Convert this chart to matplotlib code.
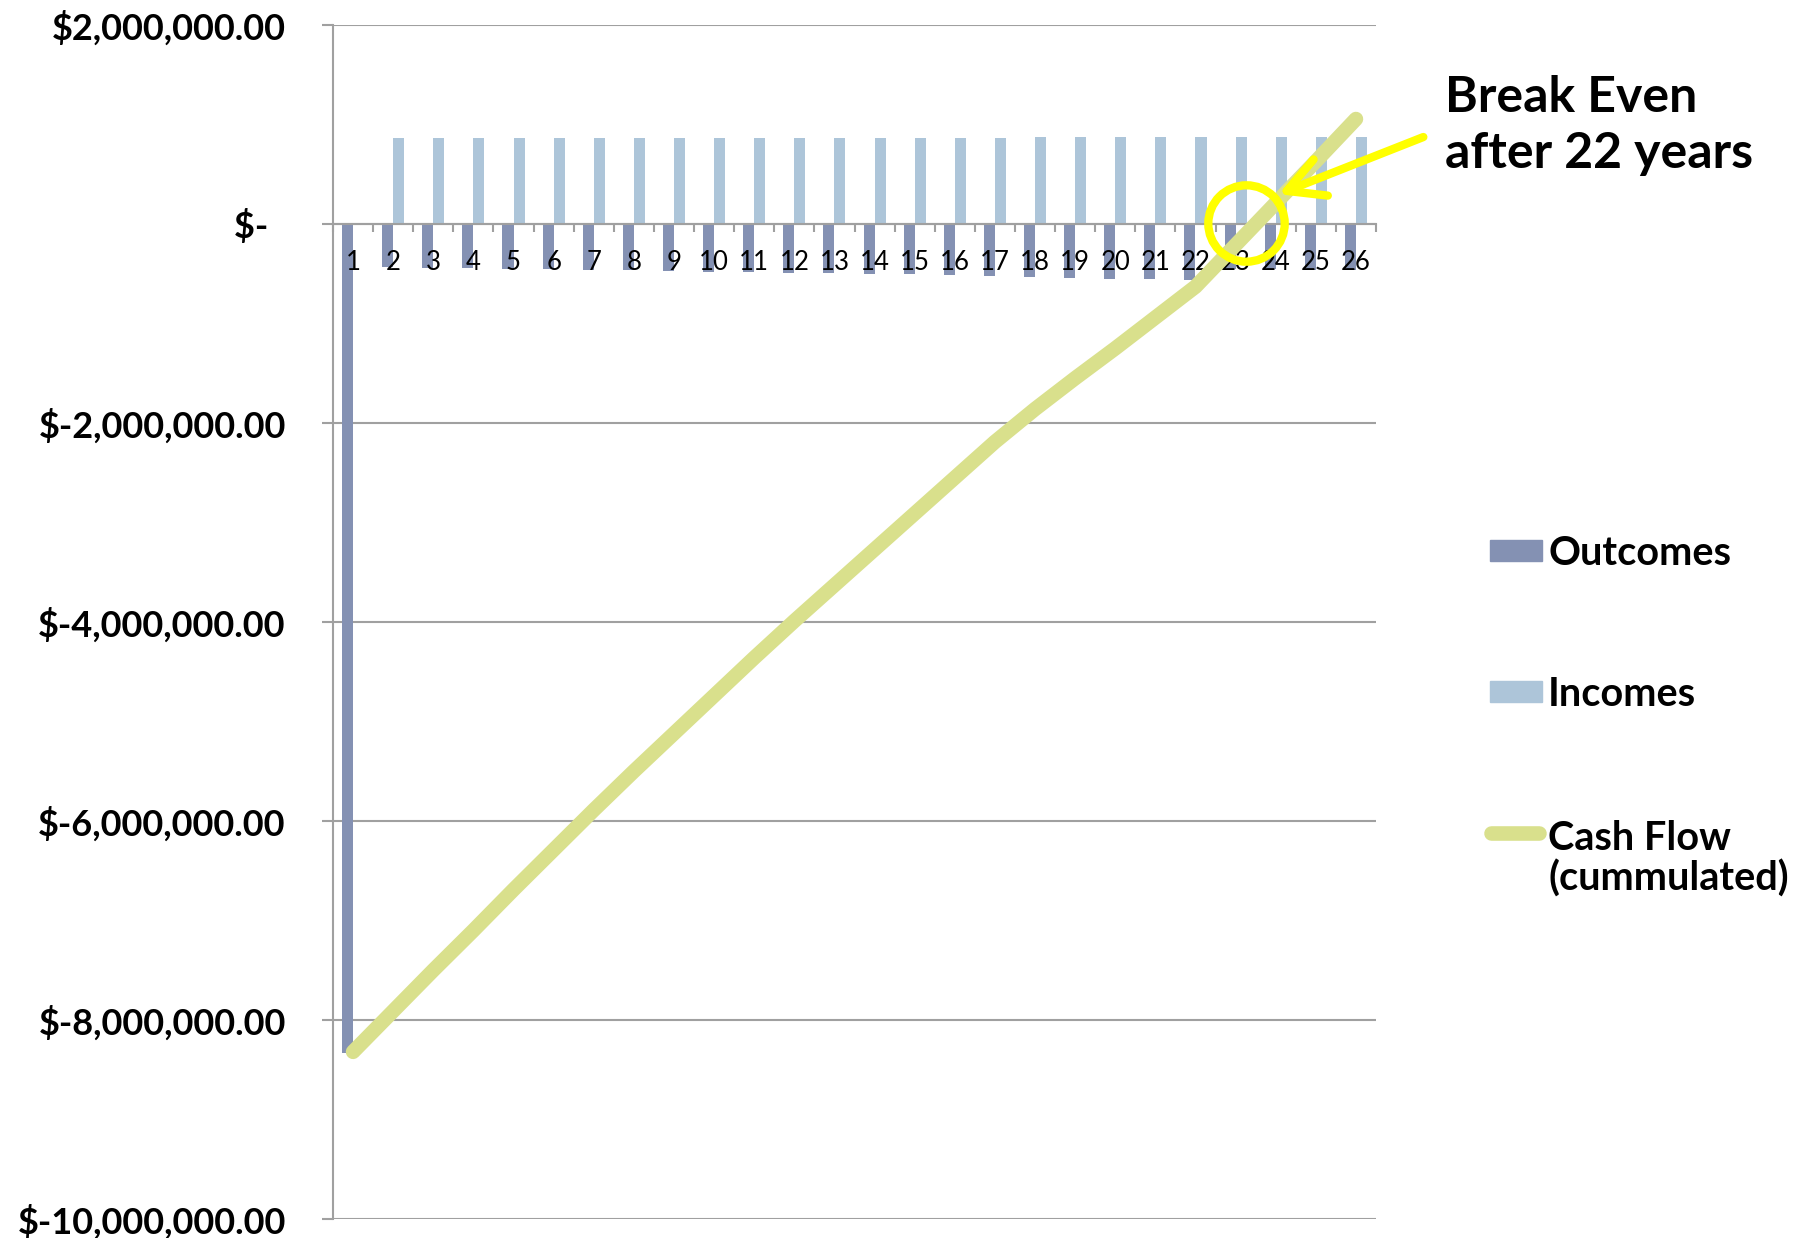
import matplotlib
matplotlib.use("Agg")
import matplotlib.pyplot as plt
from matplotlib.patches import Rectangle
from matplotlib.lines import Line2D
from matplotlib.ticker import FuncFormatter, FixedLocator
import numpy as np

plt.rcParams["font.family"] = ["Lato", "DejaVu Sans"]

# --- data ---
years = list(range(1, 27))
outcomes = [-8330000, -430000, -446000, -446000, -456000, -456000, -462000,
            -462000, -469000, -479000, -479000, -489000, -496000, -503000,
            -503000, -513000, -523000, -529000, -540000, -549000, -556000,
            -566000, -455000, -455000, -458000, -462000]
incomes = [0] + [861000] * 16 + [871000] * 9
cash_flow = [-8320000, -7910000, -7500000, -7100000, -6690000, -6290000,
             -5890000, -5500000, -5120000, -4740000, -4360000, -3990000,
             -3630000, -3270000, -2910000, -2550000, -2190000, -1860000,
             -1550000, -1250000, -940000, -630000, -210000, 210000,
             630000, 1055000]
y_ticks = [-10000000, -8000000, -6000000, -4000000, -2000000, 0, 2000000]

C_OUT = "#8491B3"
C_INC = "#ADC5D9"
C_CF = "#D9E08C"
C_YEL = "#FFFF00"
C_GRID = "#A0A0A0"

W, H = 1812, 1238
fig = plt.figure(figsize=(W / 100, H / 100), dpi=100)


def fx(px):
    return px / W


def fy(py):
    return 1 - py / H


ax = fig.add_axes([fx(333), fy(1219), fx(1376) - fx(333), fy(25) - fy(1219)])

# horizontal gridlines under everything
for t in y_ticks:
    ax.axhline(t, color=C_GRID, lw=1.5, zorder=0.5)

x = np.arange(len(years))
bw = 0.275
ax.bar(x - bw / 2, outcomes, width=bw, color=C_OUT, zorder=1)
ax.bar(x + bw / 2, incomes, width=bw, color=C_INC, zorder=1)
ax.plot(x, cash_flow, color=C_CF, lw=10.5, solid_capstyle="round",
        solid_joinstyle="round", zorder=3)

ax.set_xlim(-0.5, len(years) - 0.5)
ax.set_ylim(y_ticks[0], y_ticks[-1])
ax.set_yticks(y_ticks)


def money(v, pos):
    if v == 0:
        return "$-  "
    return f"${v:,.2f}"


ax.yaxis.set_major_formatter(FuncFormatter(money))

for s in ["top", "right"]:
    ax.spines[s].set_visible(False)
ax.spines["bottom"].set_position(("data", 0))
ax.spines["bottom"].set_color(C_GRID)
ax.spines["bottom"].set_linewidth(1.5)
ax.spines["left"].set_color(C_GRID)
ax.spines["left"].set_linewidth(1.5)

ax.set_xticks(x)
ax.set_xticklabels([str(y) for y in years])
ax.xaxis.set_minor_locator(FixedLocator(np.arange(-0.5, len(years), 1.0)))
ax.tick_params(axis="x", which="major", length=0, pad=19, labelsize=18.5)
ax.tick_params(axis="x", which="minor", length=6, width=1.5, color=C_GRID,
               direction="out")
ax.tick_params(axis="y", length=8, width=1.5, color=C_GRID, pad=26,
               labelsize=26)
for lab in ax.get_yticklabels():
    lab.set_fontweight("bold")

# break-even annotation
ax.plot([22.27], [15000], marker="o", ms=55, mfc="none", mec=C_YEL, mew=6,
        zorder=5, clip_on=False)
ax.annotate("", xy=(23.07, 300000), xytext=(26.68, 874000),
            arrowprops=dict(arrowstyle="->,head_length=0.75,head_width=0.4",
                            color=C_YEL, lw=6, mutation_scale=35,
                            shrinkA=0, shrinkB=0),
            annotation_clip=False, zorder=6)
fig.text(fx(1445), fy(168), "Break Even\nafter 22 years", ha="left",
         va="baseline", fontsize=36, fontweight="bold", linespacing=1.3)

# legend, drawn by hand to keep the original spacing
fig.add_artist(Rectangle((fx(1490), fy(561)), fx(52), 21 / H, color=C_OUT,
                         transform=fig.transFigure))
fig.add_artist(Rectangle((fx(1490), fy(702)), fx(52), 21 / H, color=C_INC,
                         transform=fig.transFigure))
fig.add_artist(Line2D([fx(1491), fx(1539)], [fy(833), fy(833)], lw=10.5,
                      color=C_CF, solid_capstyle="round",
                      transform=fig.transFigure))
fig.text(fx(1548), fy(554), "Outcomes", va="center", fontsize=28.5,
         fontweight="bold")
fig.text(fx(1548), fy(695), "Incomes", va="center", fontsize=28.5,
         fontweight="bold")
fig.text(fx(1548), fy(859), "Cash Flow\n(cummulated)", va="center",
         fontsize=28.5, fontweight="bold", linespacing=1.1)

fig.savefig("out.png", dpi=100)
